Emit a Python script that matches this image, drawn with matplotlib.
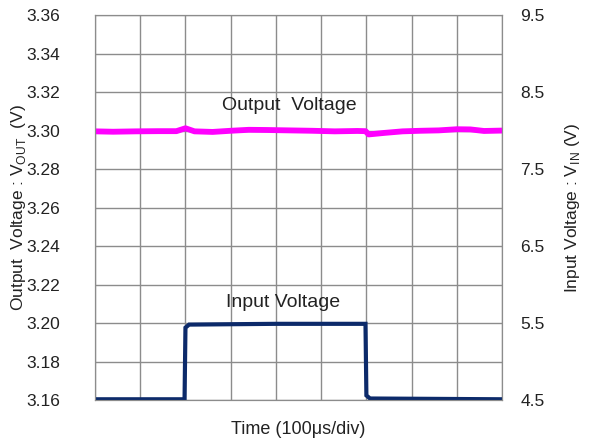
import matplotlib.pyplot as plt
import numpy as np

plt.rcParams['font.family'] = ['Liberation Sans', 'DejaVu Sans']

# time in divisions (100 us/div)
t_out = [0.0, 0.4, 0.9, 1.4, 1.8, 2.0, 2.2, 2.6, 3.0, 3.4, 3.8, 4.3, 4.8, 5.3, 5.8, 5.98, 6.05,
         6.4, 6.8, 7.2, 7.6, 8.0, 8.3, 8.6, 9.0]
v_out = [3.2996, 3.2994, 3.2996, 3.2997, 3.2997, 3.3012, 3.2996, 3.2993, 3.2999, 3.3004, 3.3003,
         3.3001, 3.2999, 3.2996, 3.2998, 3.2997, 3.2980, 3.2988, 3.2996, 3.2999, 3.3001, 3.3007,
         3.3006, 3.2998, 3.3000]

t_in = [0.0, 1.98, 2.0, 2.08, 4.0, 5.98, 6.0, 6.08, 9.0]
v_in = [4.51, 4.51, 5.44, 5.48, 5.49, 5.49, 4.56, 4.52, 4.51]

grid_c = '#8c8c8c'
txt_c = '#222222'

fig = plt.figure(figsize=(5.9, 4.44), dpi=100)
ax = fig.add_axes([0.161, 0.099, 0.690, 0.867])
ax2 = ax.twinx()

ax.plot(t_out, v_out, color='#ff00ff', lw=4.2, solid_capstyle='butt')
ax2.plot(t_in, v_in, color='#0c2a6a', lw=3.0, solid_joinstyle='miter', solid_capstyle='butt')

ax.set_xlim(0, 9)
ax.set_ylim(3.16, 3.36)
ax2.set_ylim(4.5, 9.5)
ax.set_xticks(np.arange(0, 10, 1))
ax.set_xticklabels([])
ax.set_yticks(np.arange(3.16, 3.3601, 0.02))
ax.set_yticklabels([f'{v:.2f}' for v in np.arange(3.16, 3.3601, 0.02)])
ax2.set_yticks(np.arange(4.5, 9.51, 1.0))
ax2.set_yticklabels([f'{v:.1f}' for v in np.arange(4.5, 9.51, 1.0)])

ax.grid(True, color=grid_c, lw=1)
ax.set_axisbelow(True)
for a in (ax, ax2):
    for s in a.spines.values():
        s.set_color(grid_c)
    a.tick_params(length=0, labelsize=12.5, colors=txt_c)
ax.tick_params(axis='y', pad=25)
ax2.tick_params(axis='y', pad=13)

ax.set_ylabel('Output  Voltage : V$_{\\mathregular{OUT}}$  (V)', fontsize=12.5, color=txt_c)
ax.yaxis.set_label_coords(-0.165, 0.5)
ax2.set_ylabel('Input Voltage : V$_{\\mathregular{IN}}$ (V)', fontsize=12.5, color=txt_c)
ax2.yaxis.set_label_coords(1.15, 0.5)
ax.set_xlabel('Time (100μs/div)', fontsize=13, color=txt_c)
ax.xaxis.set_label_coords(0.5, -0.055)

ax.text(4.3, 3.313, 'Output  Voltage', ha='center', va='center', fontsize=14, color=txt_c)
ax.text(4.15, 3.2105, 'Input Voltage', ha='center', va='center', fontsize=14, color=txt_c)

fig.savefig('out.png', dpi=100)
